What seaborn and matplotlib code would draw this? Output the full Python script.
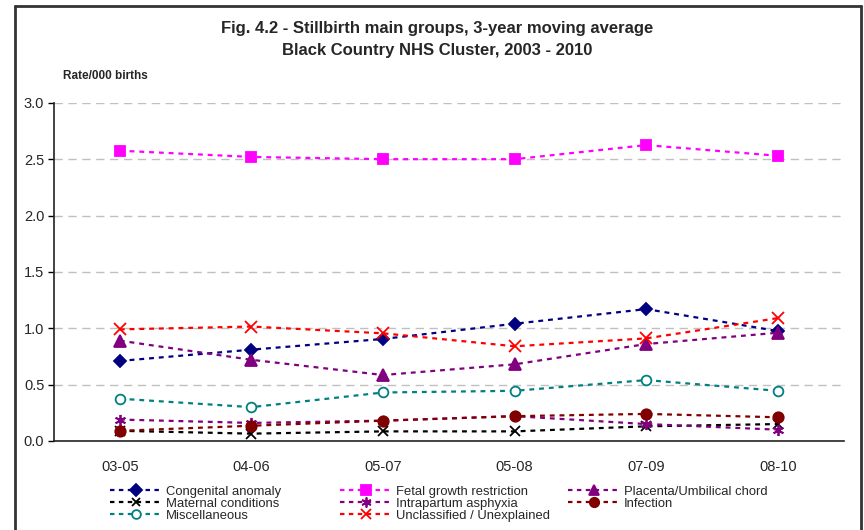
import numpy as np
import pandas as pd
import matplotlib
matplotlib.use("Agg")
import matplotlib.pyplot as plt
from matplotlib.lines import Line2D
import seaborn as sns

periods = ["03-05", "04-06", "05-07", "05-08", "07-09", "08-10"]
congenital = [0.71, 0.81, 0.905, 1.04, 1.17, 0.975]
fetal = [2.575, 2.52, 2.50, 2.50, 2.625, 2.53]
placenta = [0.89, 0.72, 0.585, 0.68, 0.86, 0.96]
maternal = [0.09, 0.065, 0.085, 0.085, 0.13, 0.15]
intrapartum = [0.19, 0.16, 0.18, 0.22, 0.15, 0.10]
infection = [0.09, 0.135, 0.18, 0.22, 0.24, 0.21]
miscellaneous = [0.375, 0.30, 0.43, 0.445, 0.54, 0.445]
unclassified = [0.99, 1.015, 0.955, 0.84, 0.91, 1.09]

series = [
    ("Congenital anomaly", congenital),
    ("Fetal growth restriction", fetal),
    ("Placenta/Umbilical chord", placenta),
    ("Maternal conditions", maternal),
    ("Intrapartum asphyxia", intrapartum),
    ("Infection", infection),
    ("Miscellaneous", miscellaneous),
    ("Unclassified / Unexplained", unclassified),
]

styles = {
    "Congenital anomaly": dict(color="#000080", marker="D", ms=6.5, mfc="#000080"),
    "Fetal growth restriction": dict(color="#FF00FF", marker="s", ms=7.5, mfc="#FF00FF"),
    "Placenta/Umbilical chord": dict(color="#800080", marker="^", ms=8, mfc="#800080"),
    "Maternal conditions": dict(color="#000000", marker="x", ms=7, mfc="#000000"),
    "Intrapartum asphyxia": dict(color="#800080", marker=(6, 2, 0), ms=8, mfc="#800080"),
    "Infection": dict(color="#800000", marker="o", ms=7.5, mfc="#800000"),
    "Miscellaneous": dict(color="#008080", marker="o", ms=7, mfc="white"),
    "Unclassified / Unexplained": dict(color="#FF0000", marker="x", ms=8, mfc="#FF0000"),
}

rows = []
for name, vals in series:
    for i, v in enumerate(vals):
        rows.append({"series": name, "x": i, "value": v})
df = pd.DataFrame(rows)

sns.set_theme(style="white")
plt.rcParams["font.family"] = ["Liberation Sans", "DejaVu Sans"]

fig = plt.figure(figsize=(8.64, 5.30), dpi=100)
ax = fig.add_axes([0.0625, 0.168, 0.914, 0.638])

dash = (0, (2.2, 2.2))
for name, _ in series:
    st = styles[name]
    sub = df[df["series"] == name]
    sns.lineplot(data=sub, x="x", y="value", ax=ax, color=st["color"],
                 linewidth=1.6, legend=False, sort=False)
    line = ax.lines[-1]
    line.set_linestyle(dash)
    line.set_marker(st["marker"])
    line.set_markersize(st["ms"])
    line.set_markerfacecolor(st["mfc"])
    line.set_markeredgecolor(st["color"])
    line.set_markeredgewidth(1.3)
    line.set_label(name)
    line.set_zorder(3)

ax.set_xlim(-0.5, 5.5)
ax.set_ylim(0, 3.0)
ax.set_yticks(np.arange(0, 3.01, 0.5))
ax.set_yticklabels([f"{v:.1f}" for v in np.arange(0, 3.01, 0.5)], fontsize=10.5)
ax.set_xticks(range(6))
ax.set_xticklabels(periods, fontsize=10.5)
ax.set_xticks(np.arange(-0.5, 5.6, 1.0), minor=True)
ax.tick_params(axis="x", which="major", length=0, pad=14)
ax.tick_params(axis="x", which="minor", length=5, width=1, color="black", direction="out")
ax.tick_params(axis="y", which="major", length=4, width=1, color="black", direction="out", left=True, pad=3)
ax.set_xlabel("")
ax.set_ylabel("")
ax.grid(False)
for v in np.arange(0.5, 3.01, 0.5):
    ax.axhline(v, color="#C0C0C0", linestyle=(0, (6, 4)), linewidth=1, zorder=1)

for s in ["top", "right"]:
    ax.spines[s].set_visible(False)
for s in ["left", "bottom"]:
    ax.spines[s].set_visible(True)
    ax.spines[s].set_color("#222222")
    ax.spines[s].set_linewidth(1.2)

fig.text(0.506, 1 - 28/530, "Fig. 4.2 - Stillbirth main groups, 3-year moving average",
         ha="center", va="center", fontsize=12, fontweight="bold")
fig.text(0.506, 1 - 50/530, "Black Country NHS Cluster, 2003 - 2010",
         ha="center", va="center", fontsize=12, fontweight="bold")
fig.text(63/864, 1 - 76/530, "Rate/000 births", ha="left", va="center",
         fontsize=8.5, fontweight="bold")

def make_handle(n):
    st = styles[n]
    return Line2D([0], [0], color=st["color"], linestyle=(0, (2, 2)), linewidth=1.6,
                  marker=st["marker"], markersize=st["ms"] * 0.9,
                  markerfacecolor=st["mfc"], markeredgecolor=st["color"],
                  markeredgewidth=1.3)

columns = [
    (110, ["Congenital anomaly", "Maternal conditions", "Miscellaneous"]),
    (340, ["Fetal growth restriction", "Intrapartum asphyxia", "Unclassified / Unexplained"]),
    (568, ["Placenta/Umbilical chord", "Infection"]),
]
for x0, names in columns:
    top = 485.5
    fig.legend([make_handle(n) for n in names], names, loc="upper left",
               bbox_to_anchor=(x0 / 864, 1 - top / 530), ncol=1,
               frameon=False, fontsize=9.4, handlelength=4.0, handletextpad=0.3,
               labelspacing=0.0, borderpad=0, borderaxespad=0)

# chart border
bc = "#333333"
fig.add_artist(Line2D([15/864, 15/864], [0, 1 - 6/530], transform=fig.transFigure, color=bc, linewidth=2))
fig.add_artist(Line2D([15/864, 861/864], [1 - 6/530, 1 - 6/530], transform=fig.transFigure, color=bc, linewidth=2))
fig.add_artist(Line2D([861/864, 861/864], [0, 1 - 6/530], transform=fig.transFigure, color=bc, linewidth=2))

fig.savefig("out.png", dpi=100)
